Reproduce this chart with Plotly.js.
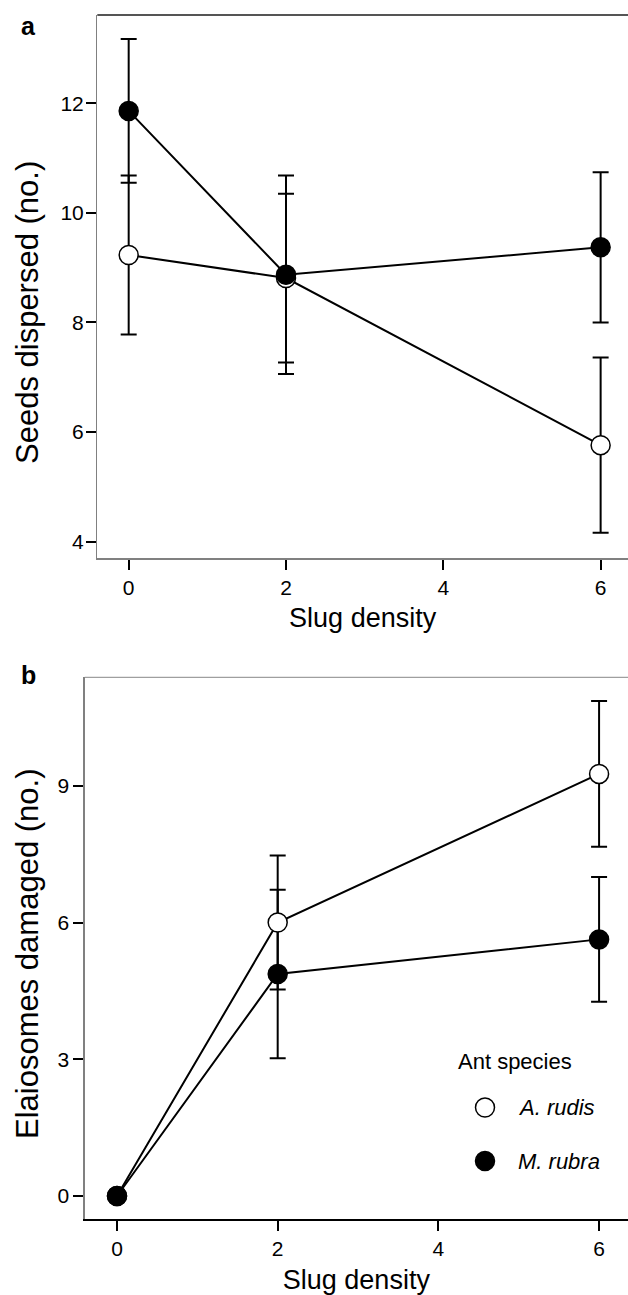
<!DOCTYPE html>
<html>
<head>
<meta charset="utf-8">
<script src="https://cdn.plot.ly/plotly-3.0.1.min.js"></script>
<style>
  html, body { margin: 0; padding: 0; background: #fff; overflow: hidden; }
  #chart { width: 628px; height: 1295px; }
</style>
</head>
<body>
<div id="chart"></div>
<script>
// ---- data ----
const slugDensity = [0, 2, 6];
const xTickVals = [0, 2, 4, 6];

// panel a: seeds dispersed (no.)
const seedsRudis   = [9.23, 8.81, 5.76];
const seedsRudisSE = [1.45, 1.54, 1.60];
const seedsRubra   = [11.86, 8.87, 9.37];
const seedsRubraSE = [1.31, 1.81, 1.37];

// panel b: elaiosomes damaged (no.)
const damRudis   = [0, 6.00, 9.26];
const damRudisSE = [0, 1.47, 1.60];
const damRubra   = [0, 4.87, 5.63];
const damRubraSE = [0, 1.85, 1.37];

const species = ['A. rudis', 'M. rubra'];
const speciesFill = ['white', 'black'];

const titleA = 'Seeds dispersed (no.)';
const titleB = 'Elaiosomes damaged (no.)';
const xTitle = 'Slug density';

// ---- layout helpers ----
const W = 628, H = 1295;
const px = x => x / W;
const py = y => (H - y) / H;
const FONT = 'Liberation Sans, Arial, Helvetica, sans-serif';

const mk = fill => ({ size: 19, color: fill, line: { color: 'black', width: 1.5 } });

function errTrace(x, y, se, xa, ya) {
  return {
    x: x, y: y, xaxis: xa, yaxis: ya, type: 'scatter', mode: 'markers',
    marker: { size: 1, color: 'rgba(0,0,0,0)' },
    error_y: { type: 'data', array: se, visible: true, color: 'black', thickness: 2, width: 8 },
    hoverinfo: 'skip', showlegend: false
  };
}
function mainTrace(x, y, fill, name, xa, ya) {
  return {
    x: x, y: y, xaxis: xa, yaxis: ya, type: 'scatter', mode: 'lines+markers', name: name,
    line: { color: 'black', width: 2 },
    marker: mk(fill), showlegend: false, cliponaxis: false
  };
}

const traces = [
  errTrace(slugDensity, seedsRudis, seedsRudisSE, 'x', 'y'),
  errTrace(slugDensity, seedsRubra, seedsRubraSE, 'x', 'y'),
  mainTrace(slugDensity, seedsRudis, 'white', species[0], 'x', 'y'),
  mainTrace(slugDensity, seedsRubra, 'black', species[1], 'x', 'y'),
  errTrace(slugDensity, damRudis, damRudisSE, 'x2', 'y2'),
  errTrace(slugDensity, damRubra, damRubraSE, 'x2', 'y2'),
  mainTrace(slugDensity, damRudis, 'white', species[0], 'x2', 'y2'),
  mainTrace(slugDensity, damRubra, 'black', species[1], 'x2', 'y2'),
  // legend symbols
  {
    x: species.map(() => 0), y: species.map((s, i) => -i), xaxis: 'x3', yaxis: 'y3',
    type: 'scatter', mode: 'markers', cliponaxis: false, hoverinfo: 'skip', showlegend: false,
    marker: { size: 19, color: speciesFill, line: { color: 'black', width: 1.5 } }
  }
];

const tickCommon = {
  ticks: 'outside', ticklen: 10, tickwidth: 2, tickcolor: 'black',
  showgrid: false, zeroline: false, showline: true,
  tickfont: { family: FONT, size: 21, color: 'black' }
};

const layout = {
  width: W, height: H,
  margin: { l: 0, r: 0, t: 0, b: 0 },
  paper_bgcolor: 'white', plot_bgcolor: 'white',
  font: { family: FONT, color: 'black' },
  showlegend: false,
  xaxis: Object.assign({}, tickCommon, {
    domain: [px(97.3), 1], range: [-0.399, 6.348], anchor: 'y',
    tickvals: xTickVals, linecolor: '#808080', linewidth: 1.5,
    title: { text: xTitle, font: { family: FONT, size: 27, color: 'black' }, standoff: 10 }
  }),
  yaxis: Object.assign({}, tickCommon, {
    domain: [py(558), py(15)], range: [3.70, 13.61], anchor: 'x',
    tick0: 0, dtick: 2, linecolor: '#808080', linewidth: 1.3, ticklabelstandoff: -2
  }),
  xaxis2: Object.assign({}, tickCommon, {
    domain: [px(84.7), 1], range: [-0.402, 6.36], anchor: 'y2',
    tickvals: xTickVals, linecolor: 'black', linewidth: 1.5,
    title: { text: xTitle, font: { family: FONT, size: 27, color: 'black' }, standoff: 13 }
  }),
  yaxis2: Object.assign({}, tickCommon, {
    domain: [py(1219), py(677.3)], range: [-0.505, 11.38], anchor: 'x2',
    tick0: 0, dtick: 3, linecolor: '#808080', linewidth: 1.3, ticklabelstandoff: 0
  }),
  xaxis3: { domain: [px(485), px(620)], range: [0, 1], visible: false, fixedrange: true, anchor: 'y3' },
  yaxis3: { domain: [py(1161), py(1107.5)], range: [-1, 0], visible: false, fixedrange: true, anchor: 'x3' },
  shapes: [
    { type: 'line', xref: 'paper', yref: 'paper', x0: px(97.3), x1: 1, y0: py(15), y1: py(15),
      line: { color: '#555555', width: 2 } },
    { type: 'line', xref: 'paper', yref: 'paper', x0: px(84.7), x1: 1, y0: py(677.3), y1: py(677.3),
      line: { color: '#888888', width: 1 } }
  ],
  annotations: [
    { text: titleA, textangle: -90, xref: 'paper', yref: 'paper', x: px(27), y: py(313),
      xanchor: 'center', yanchor: 'middle', showarrow: false,
      font: { family: FONT, size: 31, color: 'black' } },
    { text: titleB, textangle: -90, xref: 'paper', yref: 'paper', x: px(27), y: py(954),
      xanchor: 'center', yanchor: 'middle', showarrow: false,
      font: { family: FONT, size: 31, color: 'black' } },
    { text: '<b>a</b>', xref: 'paper', yref: 'paper', x: px(19), y: py(26), xanchor: 'left', yanchor: 'middle',
      showarrow: false, font: { family: FONT, size: 25, color: 'black' } },
    { text: '<b>b</b>', xref: 'paper', yref: 'paper', x: px(19), y: py(675), xanchor: 'left', yanchor: 'middle',
      showarrow: false, font: { family: FONT, size: 25, color: 'black' } },
    { text: 'Ant species', xref: 'paper', yref: 'paper', x: px(456), y: py(1061), xanchor: 'left', yanchor: 'middle',
      showarrow: false, font: { family: FONT, size: 22, color: 'black' } }
  ].concat(species.map((s, i) => ({
    text: '<i>' + s + '</i>', xref: 'x3', yref: 'y3', x: 0, y: -i, xshift: 31,
    xanchor: 'left', yanchor: 'middle', showarrow: false,
    font: { family: FONT, size: 22, color: 'black' }
  })))
};

Plotly.newPlot('chart', traces, layout, { displayModeBar: false, staticPlot: true });
</script>
</body>
</html>
